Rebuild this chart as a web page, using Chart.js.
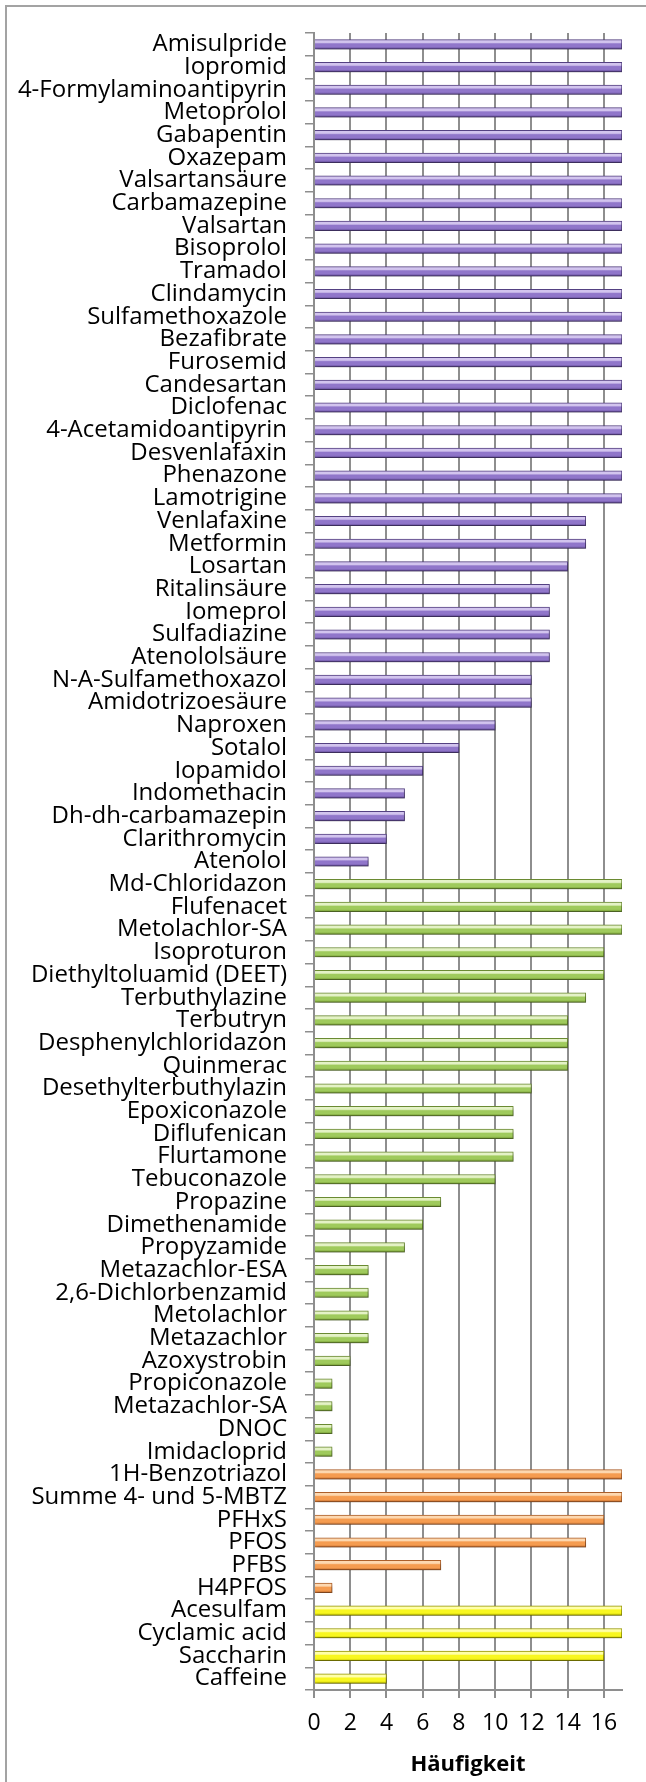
<!DOCTYPE html>
<html>
<head>
<meta charset="utf-8">
<script src="https://cdn.jsdelivr.net/npm/chart.js@4.4.1/dist/chart.umd.min.js"></script>
<style>
  html, body { margin: 0; padding: 0; background: #fff; overflow: hidden; }
  #frame { position: absolute; left: 5px; top: 5px; width: 700px; height: 1830px; border: 2px solid #a3a3a3; }
  #chart { position: absolute; left: 0; top: 0; }
</style>
</head>
<body>
<div id="frame"></div>
<canvas id="chart" width="646" height="1782"></canvas>
<script>
// Arzneimittel (lila)
const pharmaLabels = ["Amisulpride", "Iopromid", "4-Formylaminoantipyrin", "Metoprolol", "Gabapentin",
  "Oxazepam", "Valsartansäure", "Carbamazepine", "Valsartan", "Bisoprolol", "Tramadol", "Clindamycin",
  "Sulfamethoxazole", "Bezafibrate", "Furosemid", "Candesartan", "Diclofenac", "4-Acetamidoantipyrin",
  "Desvenlafaxin", "Phenazone", "Lamotrigine", "Venlafaxine", "Metformin", "Losartan", "Ritalinsäure",
  "Iomeprol", "Sulfadiazine", "Atenololsäure", "N-A-Sulfamethoxazol", "Amidotrizoesäure", "Naproxen",
  "Sotalol", "Iopamidol", "Indomethacin", "Dh-dh-carbamazepin", "Clarithromycin", "Atenolol"];
const pharmaValues = [17, 17, 17, 17, 17, 17, 17, 17, 17, 17, 17, 17, 17, 17, 17, 17, 17, 17, 17, 17, 17,
  15, 15, 14, 13, 13, 13, 13, 12, 12, 10, 8, 6, 5, 5, 4, 3];

// Pflanzenschutzmittel (grün)
const pestLabels = ["Md-Chloridazon", "Flufenacet", "Metolachlor-SA", "Isoproturon", "Diethyltoluamid (DEET)",
  "Terbuthylazine", "Terbutryn", "Desphenylchloridazon", "Quinmerac", "Desethylterbuthylazin",
  "Epoxiconazole", "Diflufenican", "Flurtamone", "Tebuconazole", "Propazine", "Dimethenamide",
  "Propyzamide", "Metazachlor-ESA", "2,6-Dichlorbenzamid", "Metolachlor", "Metazachlor", "Azoxystrobin",
  "Propiconazole", "Metazachlor-SA", "DNOC", "Imidacloprid"];
const pestValues = [17, 17, 17, 16, 16, 15, 14, 14, 14, 12, 11, 11, 11, 10, 7, 6, 5, 3, 3, 3, 3, 2, 1, 1, 1, 1];

// Industriechemikalien (orange)
const industryLabels = ["1H-Benzotriazol", "Summe 4- und 5-MBTZ", "PFHxS", "PFOS", "PFBS", "H4PFOS"];
const industryValues = [17, 17, 16, 15, 7, 1];

// Süßstoffe / Koffein (gelb)
const sweetLabels = ["Acesulfam", "Cyclamic acid", "Saccharin", "Caffeine"];
const sweetValues = [17, 17, 16, 4];

const xTicksMax = 17;
const xTicksStep = 2;

// colours per group: [border, light, main, dark]
const palette = [
  ["#564284", "#d2c4ee", "#9076ca", "#604894"],
  ["#6c8c33", "#e4f2c6", "#9fca5c", "#71972e"],
  ["#b0612a", "#fdd8b0", "#f59c50", "#c36a2b"],
  ["#989800", "#ffffa8", "#f8f720", "#c4c400"]
];

const labels = [].concat(pharmaLabels, pestLabels, industryLabels, sweetLabels);
const values = [].concat(pharmaValues, pestValues, industryValues, sweetValues);
const groups = [].concat(
  pharmaLabels.map(() => 0), pestLabels.map(() => 1),
  industryLabels.map(() => 2), sweetLabels.map(() => 3));

const BAR_H = 9.5;
const gray = "#8e8e8e";

function barFill(ctx) {
  const chart = ctx.chart;
  const p = palette[groups[ctx.dataIndex]];
  const yScale = chart.scales.y;
  if (!yScale || !chart.chartArea) return p[2];
  const yc = yScale.getPixelForValue(ctx.dataIndex);
  const g = chart.ctx.createLinearGradient(0, yc - BAR_H / 2, 0, yc + BAR_H / 2);
  g.addColorStop(0, p[1]);
  g.addColorStop(0.3, p[1]);
  g.addColorStop(0.45, p[2]);
  g.addColorStop(0.75, p[2]);
  g.addColorStop(1, p[3]);
  return g;
}

const shadowPlugin = {
  id: "barShadow",
  beforeDatasetsDraw(chart) {
    const c = chart.ctx;
    c.save();
    c.shadowColor = "rgba(0,0,0,0.35)";
    c.shadowBlur = 4;
    c.shadowOffsetX = 2;
    c.shadowOffsetY = 3;
  },
  afterDatasetsDraw(chart) {
    chart.ctx.restore();
  }
};

new Chart(document.getElementById("chart").getContext("2d"), {
  type: "bar",
  data: {
    labels: labels,
    datasets: [{
      data: values,
      backgroundColor: barFill,
      borderColor: (ctx) => palette[groups[ctx.dataIndex]][0],
      borderWidth: 1,
      borderSkipped: "left",
      barThickness: BAR_H
    }]
  },
  plugins: [shadowPlugin],
  options: {
    indexAxis: "y",
    responsive: false,
    animation: false,
    events: [],
    layout: { padding: { top: 33, right: 24, bottom: 0, left: 0 } },
    plugins: { legend: { display: false }, tooltip: { enabled: false } },
    scales: {
      y: {
        offset: true,
        grid: { offset: true, drawOnChartArea: false, drawTicks: true, tickLength: 9, color: gray, lineWidth: 1.5 },
        border: { display: true, color: gray, width: 2 },
        ticks: {
          autoSkip: false,
          padding: 18,
          color: "#000",
          font: { family: "'Open Sans'", size: 24 }
        },
        afterFit: (scale) => { scale.width = 314; }
      },
      x: {
        min: 0,
        max: xTicksMax,
        grid: { color: gray, lineWidth: 2, tickLength: 8 },
        border: { display: true, color: gray, width: 2 },
        ticks: {
          stepSize: xTicksStep,
          includeBounds: false,
          padding: 12,
          color: "#000",
          font: { family: "'Open Sans'", size: 23 }
        },
        title: {
          display: true,
          text: "Häufigkeit",
          color: "#000",
          font: { family: "'Open Sans'", size: 22, weight: "bold" },
          padding: { top: 0, bottom: 4 }
        },
        afterFit: (scale) => { scale.height = 92; }
      }
    }
  }
});
</script>
</body>
</html>
